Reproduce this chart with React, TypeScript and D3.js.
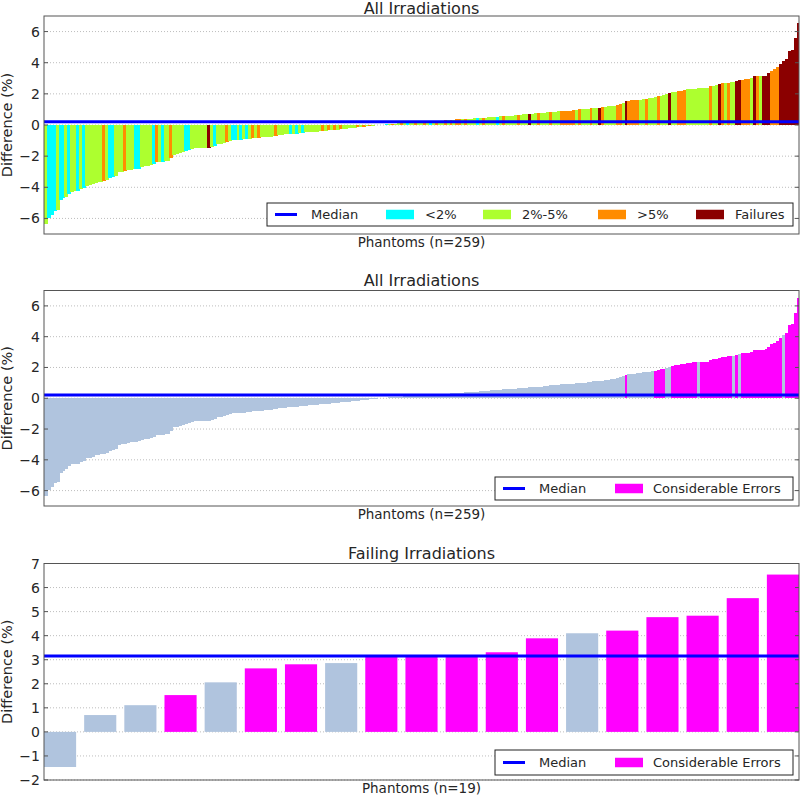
import React from 'react';
import * as d3 from 'd3';

// Sorted differences (%) of all 259 phantoms
const values: number[] = [
  -6.34, -5.95, -5.75, -5.5, -5.45, -4.84, -4.7, -4.6, -4.4, -4.3,
  -4.27, -4.25, -4.12, -4.05, -3.9, -3.87, -3.8, -3.7, -3.67, -3.65,
  -3.6, -3.55, -3.4, -3.35, -3.3, -3.05, -3.0, -2.97, -2.9, -2.87,
  -2.85, -2.84, -2.8, -2.7, -2.66, -2.63, -2.6, -2.5, -2.4, -2.38,
  -2.36, -2.34, -2.3, -2.15, -1.9, -1.85, -1.82, -1.75, -1.65, -1.6,
  -1.55, -1.5, -1.49, -1.48, -1.47, -1.47, -1.46, -1.4, -1.33, -1.25,
  -1.2, -1.18, -1.1, -1.02, -0.98, -0.97, -0.96, -0.95, -0.93, -0.9,
  -0.88, -0.86, -0.85, -0.83, -0.8, -0.77, -0.76, -0.75, -0.73, -0.72,
  -0.66, -0.63, -0.61, -0.6, -0.58, -0.57, -0.55, -0.53, -0.5, -0.48,
  -0.47, -0.46, -0.44, -0.42, -0.4, -0.38, -0.36, -0.35, -0.33, -0.31,
  -0.29, -0.27, -0.25, -0.23, -0.22, -0.2, -0.18, -0.15, -0.13, -0.11,
  -0.09, -0.07, -0.05, -0.03, -0.01, 0.01, 0.02, 0.04, 0.05, 0.07,
  0.08, 0.1, 0.11, 0.12, 0.14, 0.15, 0.17, 0.18, 0.2, 0.21,
  0.22, 0.23, 0.24, 0.25, 0.26, 0.27, 0.28, 0.29, 0.3, 0.31,
  0.33, 0.36, 0.37, 0.37, 0.38, 0.39, 0.4, 0.42, 0.43, 0.44,
  0.45, 0.47, 0.49, 0.52, 0.53, 0.54, 0.56, 0.57, 0.59, 0.6,
  0.61, 0.62, 0.65, 0.67, 0.68, 0.69, 0.7, 0.72, 0.74, 0.75,
  0.76, 0.8, 0.82, 0.83, 0.84, 0.85, 0.87, 0.9, 0.91, 0.92,
  0.93, 0.95, 0.98, 1.0, 1.01, 1.02, 1.04, 1.07, 1.09, 1.1,
  1.11, 1.14, 1.16, 1.2, 1.22, 1.23, 1.3, 1.38, 1.42, 1.53,
  1.57, 1.58, 1.6, 1.61, 1.63, 1.68, 1.7, 1.72, 1.74, 1.8,
  1.84, 1.87, 1.9, 1.96, 2.06, 2.12, 2.15, 2.18, 2.2, 2.22,
  2.3, 2.32, 2.33, 2.34, 2.35, 2.36, 2.37, 2.38, 2.48, 2.52,
  2.55, 2.64, 2.68, 2.7, 2.72, 2.74, 2.76, 2.81, 2.86, 2.92,
  2.94, 2.96, 3.0, 3.14, 3.14, 3.14, 3.15, 3.17, 3.31, 3.5,
  3.6, 3.7, 3.89, 4.1, 4.21, 4.77, 4.83, 5.56, 6.54,
];

// Category per phantom: c = <2%, g = 2%-5%, o = >5%, f = Failures
const categories: string[] = [
  'g','c','c','c','g','c','c','g','c','g',
  'g','c','g','c','g','g','g','g','g','g',
  'o','g','c','c','g','g','g','o','g','g',
  'g','c','c','g','g','g','g','c','o','g',
  'c','g','g','o','g','g','g','g','c','c',
  'g','g','g','g','g','g','f','g','c','g',
  'g','g','o','g','c','c','g','c','g','c',
  'g','o','g','o','g','g','g','g','g','o',
  'g','g','g','g','c','g','c','g','c','g',
  'g','g','g','g','g','o','g','o','g','o',
  'g','o','g','g','g','g','g','o','g','o',
  'g','o','g','g','o','g','g','c','g','o',
  'g','g','o','g','c','g','g','o','g','g',
  'o','g','c','g','o','g','g','o','g','o',
  'g','o','o','g','o','g','g','g','c','g',
  'o','g','g','g','g','c','g','o','g','g',
  'g','g','o','g','g','g','f','g','g','o',
  'g','g','g','o','g','g','g','o','o','o',
  'o','o','g','o','g','g','g','o','g','g',
  'f','o','g','g','g','g','o','o','g','f',
  'o','o','o','o','g','g','o','g','g','g',
  'o','g','g','g','f','g','g','o','o','o',
  'g','g','g','g','g','g','g','g','o','g',
  'g','f','o','g','o','g','g','f','f','o',
  'o','o','g','f','o','g','f','f','f','o',
  'o','o','f','f','f','f','f','f','f',
];

// Indices (in sorted order) of phantoms with considerable errors
const considerableIdx: number[] = [
  199, 209, 210, 211, 212, 215, 216, 217, 218, 219, 220, 221, 222, 223,
  225, 226, 227, 228, 229, 230, 231, 232, 233, 234, 235, 237,
  239, 240, 241, 242, 243, 244, 245, 246, 247, 248, 249, 250, 251, 252,
  254, 255, 256, 257, 258,
];

const categoryKeys: string[] = ['c', 'g', 'o', 'f'];
const categoryLabels: string[] = ['<2%', '2%-5%', '>5%', 'Failures'];
const yTicksAll: number[] = [-6, -4, -2, 0, 2, 4, 6];
const yTicksFail: number[] = [-2, -1, 0, 1, 2, 3, 4, 5, 6, 7];
const titles: string[] = ['All Irradiations', 'All Irradiations', 'Failing Irradiations'];
const xLabels: string[] = ['Phantoms (n=259)', 'Phantoms (n=259)', 'Phantoms (n=19)'];

const FONT = '"DejaVu Sans", sans-serif';
const LEFT = 44;
const RIGHT = 799;
const TXT = '#262626';
const FRAME = '#555';
const CAT_COLORS: Record<string, string> = { c: '#00FFFF', g: '#ADFF2F', o: '#FF8C00', f: '#8B0000' };
const LSB = '#B0C4DE';
const MAG = '#FF00FF';
const BLUE = '#0000FF';

type Bar = { v: number; color: string };
type LegendItem = { kind: 'line' | 'patch'; color: string; label: string; hx: number; hw: number; tx: number };

interface PanelProps {
  id: string;
  top: number;
  bottom: number;
  domain: [number, number];
  ticks: number[];
  title: string;
  xLabel: string;
  bars: Bar[];
  spaced: boolean;
  median: number;
  box: { x: number; y: number; w: number; h: number };
  legend: LegendItem[];
}

function Panel(p: PanelProps) {
  const n = p.bars.length;
  const x = d3.scaleLinear().domain([0, n - 0.2]).range([LEFT, RIGHT]);
  const y = d3.scaleLinear().domain(p.domain).range([p.bottom, p.top]);
  const y0 = y(0);
  const cx = (LEFT + RIGHT) / 2;
  const cy = (p.top + p.bottom) / 2;
  const ly = p.box.y + p.box.h / 2;
  return (
    <g>
      <defs>
        <clipPath id={p.id}>
          <rect x={LEFT} y={p.top} width={RIGHT - LEFT} height={p.bottom - p.top} />
        </clipPath>
      </defs>
      {p.ticks.map((t) => (
        <line key={'g' + t} x1={LEFT} x2={RIGHT} y1={y(t)} y2={y(t)} stroke="#bdbdbd" strokeWidth={1} strokeDasharray="1,2" />
      ))}
      <g clipPath={`url(#${p.id})`} shapeRendering={p.spaced ? 'auto' : 'crispEdges'}>
        {p.bars.map((b, i) => {
          const x1 = x(i);
          const x2 = p.spaced ? x(i + 0.8) : x(i + 1) + 1;
          const yv = y(b.v);
          return (
            <rect key={i} x={x1} width={x2 - x1} y={Math.min(yv, y0)} height={Math.abs(yv - y0)} fill={b.color} />
          );
        })}
      </g>
      <g clipPath={`url(#${p.id})`}>
        <line x1={LEFT} x2={RIGHT} y1={y(p.median)} y2={y(p.median)} stroke={BLUE} strokeWidth={3} />
      </g>
      {p.ticks.map((t) => (
        <g key={'t' + t}>
          <line x1={LEFT} x2={LEFT + 4} y1={y(t)} y2={y(t)} stroke={FRAME} />
          <line x1={RIGHT - 4} x2={RIGHT} y1={y(t)} y2={y(t)} stroke={FRAME} />
          <text x={LEFT - 4} y={y(t)} textAnchor="end" dominantBaseline="central" fontSize={14} fill={TXT}>
            {t < 0 ? '\u2212' + Math.abs(t) : String(t)}
          </text>
        </g>
      ))}
      <rect x={LEFT} y={p.top} width={RIGHT - LEFT} height={p.bottom - p.top} fill="none" stroke={FRAME} strokeWidth={1} />
      <text x={cx} y={Math.max(p.top - 4.5, 13.5)} textAnchor="middle" fontSize={16} fill={TXT}>{p.title}</text>
      <text x={cx} y={p.bottom + 13} textAnchor="middle" fontSize={13.5} fill={TXT}>{p.xLabel}</text>
      <text transform={`translate(12,${cy}) rotate(-90)`} textAnchor="middle" fontSize={14.5} fill={TXT}>Difference (%)</text>
      <rect x={p.box.x} y={p.box.y} width={p.box.w} height={p.box.h} fill="white" stroke="#222" strokeWidth={1} />
      {p.legend.map((it) => (
        <g key={it.label}>
          {it.kind === 'line' ? (
            <line x1={it.hx} x2={it.hx + it.hw} y1={ly} y2={ly} stroke={it.color} strokeWidth={3} />
          ) : (
            <rect x={it.hx} y={ly - 4.75} width={it.hw} height={9.5} fill={it.color} />
          )}
          <text x={it.tx} y={ly} dominantBaseline="central" fontSize={13} fill={TXT}>{it.label}</text>
        </g>
      ))}
    </g>
  );
}

export default function App() {
  const consSet = new Set(considerableIdx);
  const bars1: Bar[] = values.map((v, i) => ({ v, color: CAT_COLORS[categories[i]] }));
  const bars2: Bar[] = values.map((v, i) => ({ v, color: consSet.has(i) ? MAG : LSB }));
  const failIdx = values.map((_, i) => i).filter((i) => categories[i] === 'f');
  const bars3: Bar[] = failIdx.map((i) => ({ v: values[i], color: consSet.has(i) ? MAG : LSB }));
  const medAll = d3.median(values) as number;
  const medFail = d3.median(bars3.map((b) => b.v)) as number;

  const patchX1 = [386, 483, 598, 696];
  const legend1: LegendItem[] = [
    { kind: 'line', color: BLUE, label: 'Median', hx: 275, hw: 22, tx: 311 },
    ...categoryKeys.map((k, j) => ({
      kind: 'patch' as const, color: CAT_COLORS[k], label: categoryLabels[j], hx: patchX1[j], hw: 28, tx: patchX1[j] + 39,
    })),
  ];
  const legend23: LegendItem[] = [
    { kind: 'line', color: BLUE, label: 'Median', hx: 503, hw: 22, tx: 539 },
    { kind: 'patch', color: MAG, label: 'Considerable Errors', hx: 615, hw: 28, tx: 653 },
  ];

  return (
    <svg width={800} height={797} style={{ position: 'absolute', left: 0, top: 0, fontFamily: FONT, background: 'white' }}>
      <rect x={0} y={0} width={800} height={797} fill="white" />
      <Panel id="clip1" top={16} bottom={234} domain={[-7, 7]} ticks={yTicksAll} title={titles[0]} xLabel={xLabels[0]}
        bars={bars1} spaced={false} median={medAll} box={{ x: 267, y: 203, w: 526, h: 23 }} legend={legend1} />
      <Panel id="clip2" top={290.5} bottom={506} domain={[-7, 7]} ticks={yTicksAll} title={titles[1]} xLabel={xLabels[1]}
        bars={bars2} spaced={false} median={medAll} box={{ x: 495, y: 477, w: 298, h: 23 }} legend={legend23} />
      <Panel id="clip3" top={563.5} bottom={780} domain={[-2, 7]} ticks={yTicksFail} title={titles[2]} xLabel={xLabels[2]}
        bars={bars3} spaced={true} median={medFail} box={{ x: 495, y: 750, w: 298, h: 25 }} legend={legend23} />
    </svg>
  );
}
